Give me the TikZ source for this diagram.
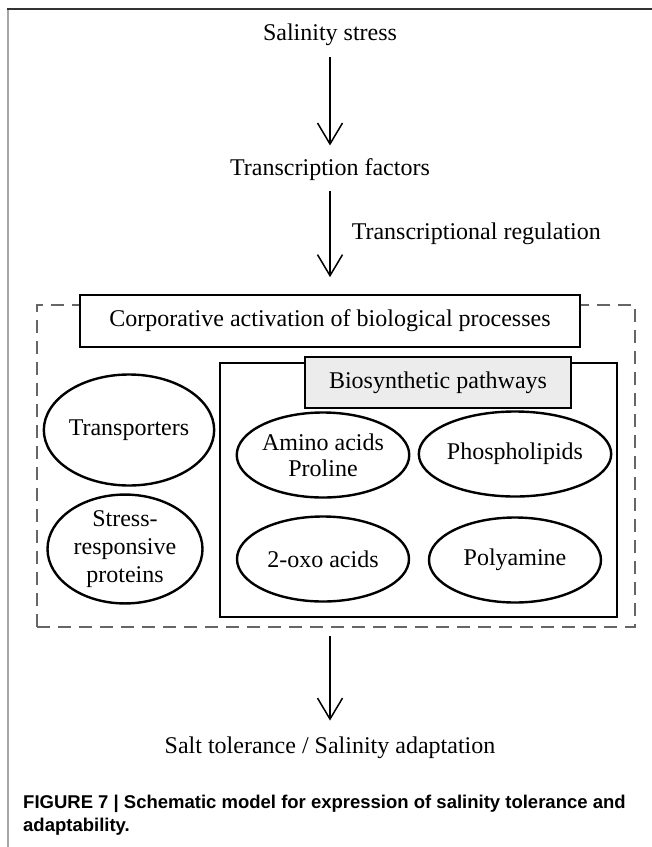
\documentclass[tikz,border=0pt]{standalone}
\usepackage{fontspec}
\setmainfont{Liberation Serif}
\newfontfamily\capfont{Liberation Sans}
\usetikzlibrary{arrows.meta}
\usetikzlibrary{shapes.geometric}
\usetikzlibrary{positioning}

\begin{document}
\begin{tikzpicture}[x=1pt, y=-1pt,
  every node/.style={font=\fontsize{24}{26}\selectfont, align=center},
  box/.style={draw, line width=1.8pt, inner sep=0pt},
  oval/.style={draw, ellipse, line width=2.4pt, inner sep=0pt, minimum width=172pt, minimum height=85pt},
  arr/.style={-{Straight Barb[length=21pt, width=25pt]}, line width=1.5pt}
]
  \useasboundingbox (0,0) rectangle (652,847);
  % frame
  \draw[gray!70, line width=2pt] (8,847) -- (8,9);
  \draw[black!80, line width=2pt] (7,9) -- (652,9);

  \node (stress) at (330,35)  {Salinity stress};
  \node (tf)     at (330,170) {Transcription factors};

  % group of processes
  \node[draw=black!60, dash pattern=on 13pt off 8pt, line width=2.4pt,
        minimum width=598pt, minimum height=322pt] (grp) at (336,466) {};
  \node[box, fill=white, minimum width=500pt, minimum height=52pt] (corp) at (330,321)
    {Corporative activation of biological processes};

  \node[box, minimum width=397pt, minimum height=254pt] (bio) at (418.5,490) {};
  \node[box, fill=gray!15, minimum width=266pt, minimum height=51pt] (path) at (438,382.5)
    {Biosynthetic pathways};

  \node[oval, minimum width=154pt, minimum height=111pt] (trans) at (129,430) {Transporters};
  \node[oval, minimum width=155pt, minimum height=105pt] (srp) at (125,549)
    {Stress-\\[2pt]responsive\\[2pt]proteins};
  \node[oval] (amino)  at (323,455) {Amino acids\\Proline};
  \node[oval] (phos)   at (515,454) {Phospholipids};
  \node[oval] (oxo)    at (323,559) {2-oxo acids};
  \node[oval] (poly)   at (515,560) {Polyamine};

  \node (salt) at (330,748) {Salt tolerance / Salinity adaptation};

  \draw[arr, shorten <=8pt, shorten >=10pt] (stress) -- (tf);
  \draw[arr, shorten <=6pt, shorten >=17pt] (tf) -- (corp)
    node[pos=0.45, right=21pt, inner sep=0pt] {Transcriptional regulation};
  \draw[arr, shorten <=8pt, shorten >=13pt] (grp.south -| salt.north) -- (salt);

  % caption
  \node[anchor=base west, align=left, inner sep=0pt,
        font=\capfont\bfseries\fontsize{18.5}{23}\selectfont] (cap) at (23,831)
    {FIGURE 7 | Schematic model for expression of salinity tolerance and\\adaptability.};
\end{tikzpicture}
\end{document}
